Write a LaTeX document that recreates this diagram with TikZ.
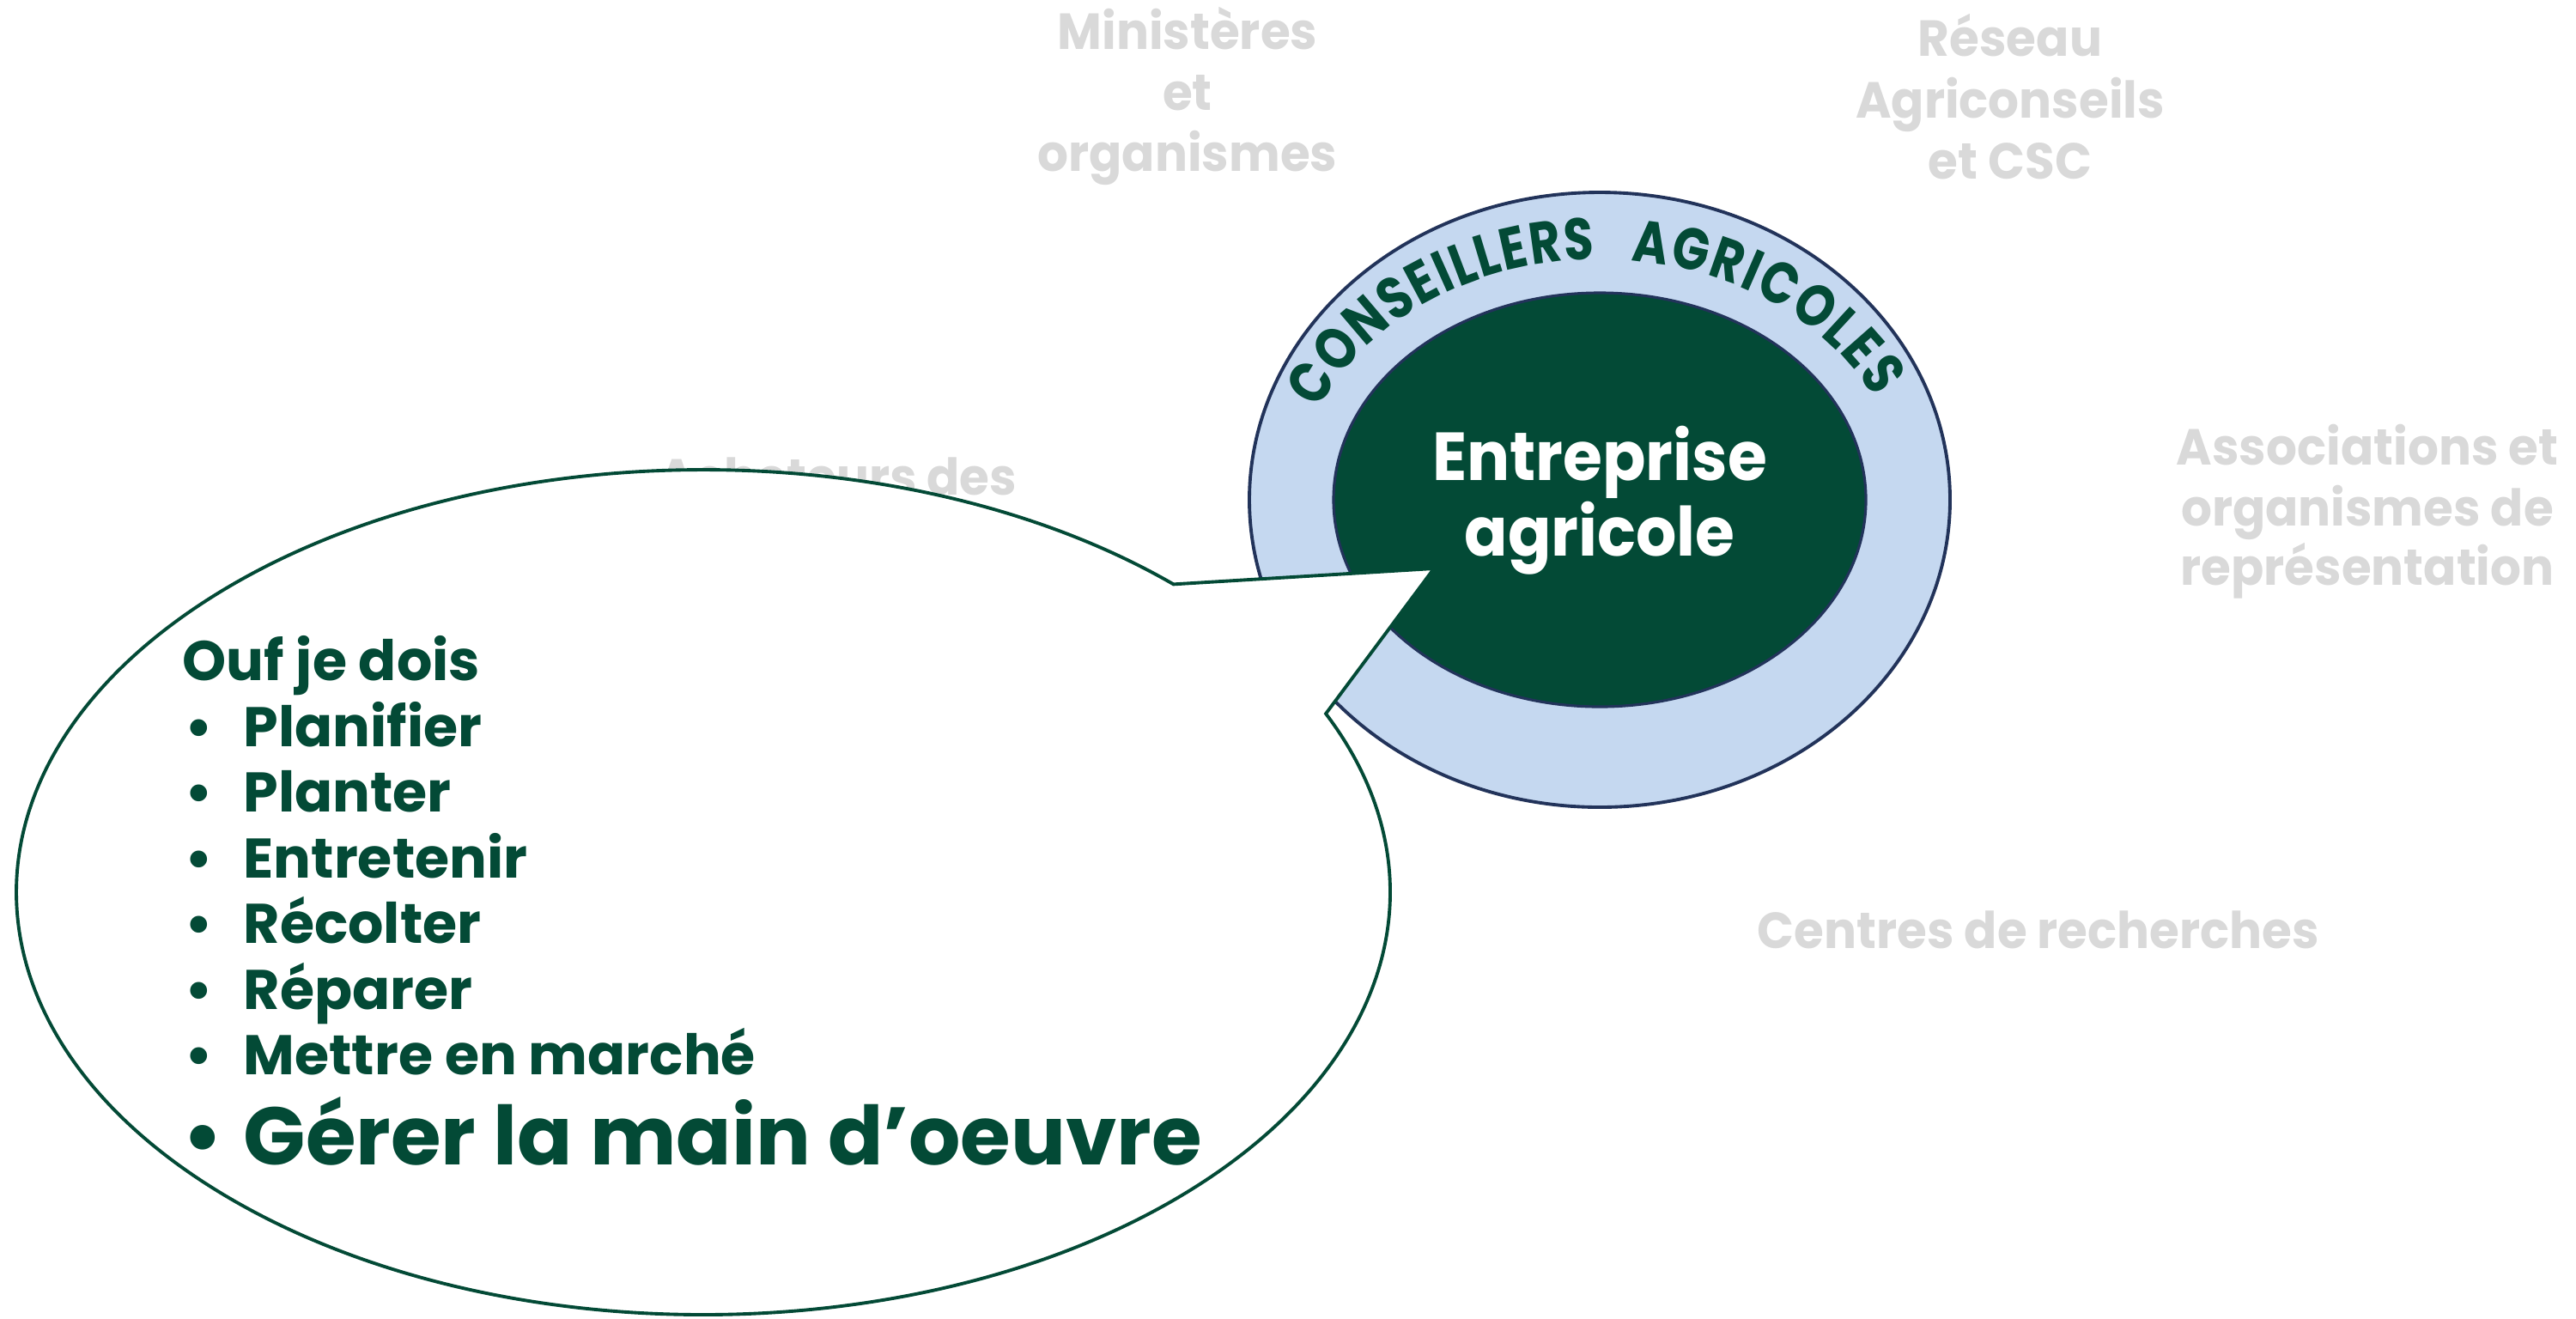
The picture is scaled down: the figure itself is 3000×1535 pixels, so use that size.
\documentclass[tikz,border=0pt]{standalone}
\usepackage{fontspec}
\setmainfont{Poppins}
\newfontfamily\narrowfont{Poppins}[FakeStretch=0.94]
\newfontfamily\labelfont{Poppins}[FakeStretch=0.955]
\newfontfamily\ringfont{Poppins}[FakeStretch=0.82]
\usetikzlibrary{decorations.text}
\definecolor{dkgreen}{HTML}{034A36}
\definecolor{ringblue}{HTML}{C5D8F0}
\definecolor{navy}{HTML}{22335A}
\definecolor{lgray}{HTML}{D9D9D9}
\begin{document}
\begin{tikzpicture}[x=0.01cm,y=0.01cm,
  glabel/.style={font=\labelfont\bfseries\fontsize{16.8pt}{20pt}\selectfont, text=lgray, anchor=base, inner sep=0pt},
  ctext/.style={font=\narrowfont\bfseries\fontsize{22.5pt}{25pt}\selectfont, text=white, anchor=base, inner sep=0pt},
  btext/.style={font=\bfseries\fontsize{18.5pt}{22pt}\selectfont, text=dkgreen, anchor=base west, inner sep=0pt},
  bigtext/.style={font=\bfseries\fontsize{27pt}{32pt}\selectfont, text=dkgreen, anchor=base west, inner sep=0pt},
  ringline/.style={draw=navy, line width=1.1pt},
  bubble/.style={draw=dkgreen, line width=1.1pt, fill=white},
  ringtext/.style={font=\ringfont\bfseries\fontsize{19.5pt}{22pt}\selectfont, text=dkgreen},
  ]
\useasboundingbox (0,0) rectangle (3000,-1535);

% grey labels
\node[glabel] (min1) at (1383,-57) {Ministères};
\node[glabel] (min2) at (1383,-128) {et};
\node[glabel] (min3) at (1383,-199) {organismes};
\node[glabel] (res1) at (2341,-65) {Réseau};
\node[glabel] (res2) at (2341,-137) {Agriconseils};
\node[glabel] (res3) at (2341,-208) {et CSC};
\node[glabel] (ass1) at (2757,-541) {Associations et};
\node[glabel] (ass2) at (2757,-612) {organismes de};
\node[glabel] (ass3) at (2757,-681) {représentation};
\node[glabel] (cen) at (2374,-1104) {Centres de recherches};
\node[glabel] (ach) at (976,-576) {Acheteurs des};

% rings
\coordinate (rc) at (1863,-582);
\path[ringline, fill=ringblue] (rc) ellipse [x radius=408, y radius=358];
\path[draw=navy, line width=0.9pt, fill=dkgreen] (rc) ellipse [x radius=310, y radius=241];

\coordinate (cs1) at ([shift={(158:352 and 280)}]rc);
\coordinate (cs2) at ([shift={(84:352 and 280)}]rc);
\path[ringtext, decorate, decoration={text along path, text align=fit to path,
  text={|\ringfont\bfseries\fontsize{19.5pt}{22pt}\selectfont\color{dkgreen}|CONSEILLERS}}]
  (cs1) arc[start angle=158, end angle=91, x radius=352, y radius=280];
\path[ringtext, decorate, decoration={text along path, text align=fit to path,
  text={|\ringfont\bfseries\fontsize{19.5pt}{22pt}\selectfont\color{dkgreen}|AGRICOLES}}]
  (cs2) arc[start angle=84, end angle=25, x radius=352, y radius=280];

% speech bubble
\coordinate (bc) at (819,-1039);
\coordinate (p1) at ([shift={(46.8:800 and 492)}]bc);
\coordinate (tip) at (1670,-662);
\path[bubble] (p1) arc[start angle=46.8, end angle=385, x radius=800, y radius=492] -- (tip) -- cycle;

% centre text
\node[ctext] (ent1) at (1863,-559) {Entreprise};
\node[ctext] (ent2) at (1863,-647) {agricole};

% bubble text
\node[btext] (ouf) at (212,-792) {Ouf je dois};
\node[btext] (i1) at (215,-869) {\makebox[0.68cm][l]{•}Planifier};
\node[btext] (i2) at (215,-945) {\makebox[0.68cm][l]{•}Planter};
\node[btext] (i3) at (215,-1022) {\makebox[0.68cm][l]{•}Entretenir};
\node[btext] (i4) at (215,-1098) {\makebox[0.68cm][l]{•}Récolter};
\node[btext] (i5) at (215,-1175) {\makebox[0.68cm][l]{•}Réparer};
\node[btext] (i6) at (215,-1251) {\makebox[0.68cm][l]{•}Mettre en marché};
\node[bigtext] (i7) at (212,-1356) {\makebox[0.71cm][l]{•}Gérer la main d’oeuvre};
\end{tikzpicture}
\end{document}
